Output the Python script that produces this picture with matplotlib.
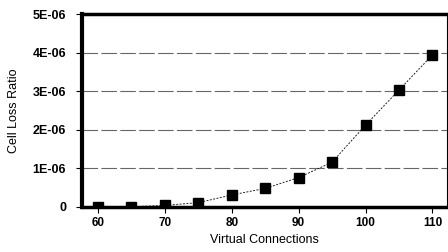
import matplotlib
matplotlib.use("Agg")
import matplotlib.pyplot as plt

connections = [60, 65, 70, 75, 80, 85, 90, 95, 100, 105, 110]
loss_ratio = [0.0, 0.0, 0.04e-6, 0.11e-6, 0.31e-6, 0.48e-6, 0.76e-6, 1.16e-6, 2.12e-6, 3.03e-6, 3.94e-6]
ytick_vals = [0, 1e-6, 2e-6, 3e-6, 4e-6, 5e-6]
ytick_labels = ["0", "1E-06", "2E-06", "3E-06", "4E-06", "5E-06"]
xtick_vals = [60, 70, 80, 90, 100, 110]

plt.rcParams['font.family'] = ['Liberation Sans', 'DejaVu Sans']
fig = plt.figure(figsize=(4.48, 2.52), dpi=100)
ax = fig.add_axes([0.183, 0.179, 0.815, 0.765])
ax.plot(connections, loss_ratio, color='#222222', lw=0.7, linestyle=(0, (2, 1.5)),
        marker='s', markersize=7, markerfacecolor='black', markeredgecolor='black')
ax.set_xlim(57.6, 112.2)
ax.set_ylim(0, 5e-6)
ax.set_yticks(ytick_vals)
ax.set_yticklabels(ytick_labels, fontsize=9, fontweight='bold')
ax.set_xticks(xtick_vals)
ax.set_xticklabels([str(v) for v in xtick_vals], fontsize=8.5, fontweight='bold')
ax.yaxis.grid(True, color='#666666', lw=0.8, linestyle=(0, (14, 3)))
ax.set_axisbelow(True)
ax.tick_params(axis='y', length=4.5, width=0.8, pad=7)
ax.tick_params(axis='x', length=4, width=0.8, pad=3)
ax.spines['left'].set_linewidth(3)
ax.spines['bottom'].set_linewidth(2.5)
ax.spines['top'].set_linewidth(2.5)
ax.spines['right'].set_linewidth(0.8)
ax.set_xlabel("Virtual Connections", fontsize=9, labelpad=4)
ax.set_ylabel("Cell Loss Ratio", fontsize=9, labelpad=9)
fig.savefig("out.png", dpi=100)
